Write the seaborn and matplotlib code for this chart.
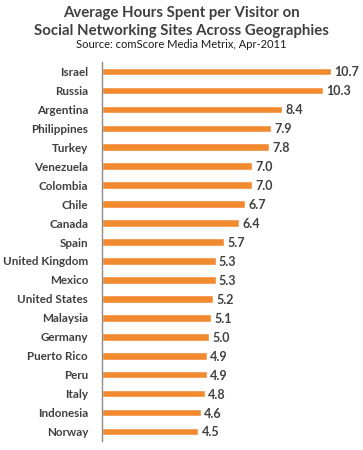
import matplotlib
matplotlib.use("Agg")
import matplotlib.pyplot as plt
import seaborn as sns
import numpy as np
import pandas as pd

countries = ["Israel", "Russia", "Argentina", "Philippines", "Turkey", "Venezuela",
             "Colombia", "Chile", "Canada", "Spain", "United Kingdom", "Mexico",
             "United States", "Malaysia", "Germany", "Puerto Rico", "Peru", "Italy",
             "Indonesia", "Norway"]
hours = [10.7, 10.3, 8.4, 7.9, 7.8, 7.0, 7.0, 6.7, 6.4, 5.7, 5.3, 5.3, 5.2, 5.1,
         5.0, 4.9, 4.9, 4.8, 4.6, 4.5]
title_lines = ["Average Hours Spent per Visitor on",
               "Social Networking Sites Across Geographies"]
source = "Source: comScore Media Metrix, Apr-2011"

sns.set_style("white")
plt.rcParams['font.family'] = ['Lato', 'DejaVu Sans']

df = pd.DataFrame({"country": countries, "hours": hours})

fig = plt.figure(figsize=(3.63, 4.5), dpi=100)
ax = fig.add_axes([102/363, 1 - 441/450, 257/363, (441 - 62)/450])

sns.barplot(data=df, y="country", x="hours", orient="h", color="#F28A30",
            saturation=1, width=0.4, ax=ax)

ax.set_xlim(0, 12)
ax.set_ylim(len(countries) - 0.5, -0.5)
ax.set_xlabel("")
ax.set_ylabel("")
ax.set_xticks([])
for s in ["top", "right", "bottom"]:
    ax.spines[s].set_visible(False)
ax.spines["left"].set_color("#8C8C8C")
ax.spines["left"].set_linewidth(1)

ax.tick_params(axis="y", which="major", length=0, pad=10, labelsize=8.4,
               labelcolor="#404040")
for lbl in ax.get_yticklabels():
    lbl.set_fontweight("bold")
ax.set_yticks(np.arange(-0.5, len(countries) + 0.5, 1), minor=True)
ax.tick_params(axis="y", which="minor", length=4, width=1, color="#8C8C8C",
               direction="out")

for i, v in enumerate(hours):
    ax.text(v + 0.15, i + 0.05, f"{v:.1f}", va="center", ha="left", fontsize=9,
            fontweight="bold", color="#404040")

fig.text(0.5, 1 - 13/450, title_lines[0], ha="center", va="center",
         fontsize=10.8, fontweight="bold", color="#404040")
fig.text(0.5, 1 - 31/450, title_lines[1], ha="center", va="center",
         fontsize=10.8, fontweight="bold", color="#404040")
fig.text(0.5, 1 - 45/450, source, ha="center", va="center",
         fontsize=8, color="#1A1A1A")

fig.savefig("out.png", dpi=100)
